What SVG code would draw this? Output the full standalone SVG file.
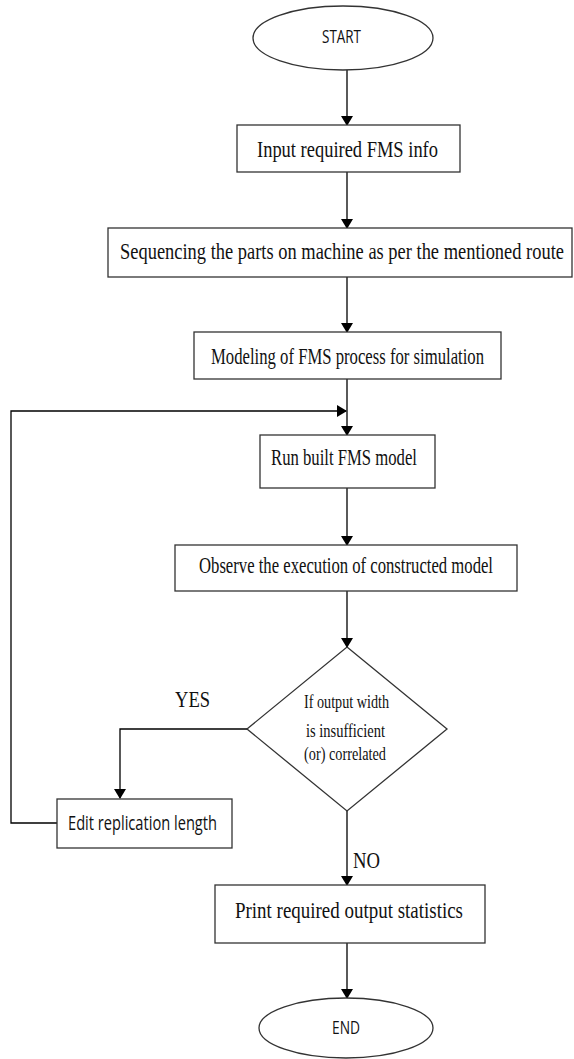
<svg xmlns="http://www.w3.org/2000/svg" width="574" height="1059" viewBox="0 0 574 1059">
<defs>
<marker id="arr" markerWidth="10" markerHeight="12" refX="9" refY="5" orient="auto" markerUnits="userSpaceOnUse" viewBox="0 0 10 10" preserveAspectRatio="none">
<path d="M0,0 L10,5 L0,10 Z" fill="#000"/>
</marker>
<style>
.box{fill:#fff;stroke:#333;stroke-width:1.3}
.ln{fill:none;stroke:#000;stroke-width:1.3}
.serif{font-family:"Liberation Serif","Times New Roman",serif;fill:#111}
.sans{font-family:"Open Sans","Liberation Sans",sans-serif;fill:#111}
</style>
</defs>
<rect width="574" height="1059" fill="#fff"/>
<g id="connectors">
<line class="ln" x1="347" y1="70" x2="347" y2="125" marker-end="url(#arr)"/>
<line class="ln" x1="347" y1="172" x2="347" y2="228" marker-end="url(#arr)"/>
<line class="ln" x1="347" y1="277" x2="347" y2="332" marker-end="url(#arr)"/>
<line class="ln" x1="347" y1="379" x2="347" y2="435" marker-end="url(#arr)"/>
<line class="ln" x1="347" y1="488" x2="347" y2="545" marker-end="url(#arr)"/>
<line class="ln" x1="347" y1="591" x2="347" y2="647" marker-end="url(#arr)"/>
<polyline class="ln" points="247,729 120,729 120,798" marker-end="url(#arr)"/>
<polyline class="ln" points="57,823 11,823 11,411 346,411" marker-end="url(#arr)"/>
<line class="ln" x1="347" y1="811" x2="347" y2="885" marker-end="url(#arr)"/>
<line class="ln" x1="347" y1="943" x2="347" y2="998" marker-end="url(#arr)"/>
<text class="serif" transform="translate(175,707) scale(1,1.25)" font-size="18.5" textLength="35" lengthAdjust="spacingAndGlyphs">YES</text>
<text class="serif" transform="translate(353,868) scale(1,1.25)" font-size="18.5" textLength="27" lengthAdjust="spacingAndGlyphs">NO</text>
</g>
<g id="start">
<ellipse class="box" cx="343" cy="38" rx="90" ry="32"/>
<text class="sans" transform="translate(341.5,43) scale(1,1.3)" font-size="14" text-anchor="middle" textLength="39" lengthAdjust="spacingAndGlyphs">START</text>
</g>
<g id="input">
<rect class="box" x="237" y="125" width="223" height="47"/>
<text class="serif" transform="translate(257,157) scale(1,1.25)" font-size="18.5" textLength="181" lengthAdjust="spacingAndGlyphs">Input required FMS info</text>
</g>
<g id="sequencing">
<rect class="box" x="108" y="228" width="464" height="49"/>
<text class="serif" transform="translate(120,259) scale(1,1.25)" font-size="18.5" textLength="444" lengthAdjust="spacingAndGlyphs">Sequencing the parts on machine as per the mentioned route</text>
</g>
<g id="modeling">
<rect class="box" x="194" y="332" width="307" height="47"/>
<text class="serif" transform="translate(211,364) scale(1,1.25)" font-size="18.5" textLength="273" lengthAdjust="spacingAndGlyphs">Modeling of FMS process for simulation</text>
</g>
<g id="run">
<rect class="box" x="260" y="435" width="175" height="53"/>
<text class="serif" transform="translate(271,465) scale(1,1.25)" font-size="18.5" textLength="146" lengthAdjust="spacingAndGlyphs">Run built FMS model</text>
</g>
<g id="observe">
<rect class="box" x="175" y="545" width="342" height="46"/>
<text class="serif" transform="translate(199,573) scale(1,1.25)" font-size="18" textLength="294" lengthAdjust="spacingAndGlyphs">Observe the execution of constructed model</text>
</g>
<g id="decision">
<polygon class="box" points="347,647 447,729 347,811 247,729"/>
<text class="serif" transform="translate(304,708) scale(1,1.3)" font-size="14.2" textLength="85" lengthAdjust="spacingAndGlyphs">If output width</text>
<text class="serif" transform="translate(306,737) scale(1,1.3)" font-size="14.2" textLength="79" lengthAdjust="spacingAndGlyphs">is insufficient</text>
<text class="serif" transform="translate(304,760) scale(1,1.3)" font-size="14.2" textLength="82" lengthAdjust="spacingAndGlyphs">(or) correlated</text>
</g>
<g id="edit">
<rect class="box" x="57" y="799" width="175" height="49"/>
<text class="sans" transform="translate(68,830) scale(1,1.4)" font-size="14" textLength="149" lengthAdjust="spacingAndGlyphs">Edit replication length</text>
</g>
<g id="print">
<rect class="box" x="215" y="885" width="270" height="58"/>
<text class="serif" transform="translate(235,918) scale(1,1.25)" font-size="18.5" textLength="228" lengthAdjust="spacingAndGlyphs">Print required output statistics</text>
</g>
<g id="end">
<ellipse class="box" cx="346" cy="1028" rx="87" ry="30"/>
<text class="sans" transform="translate(346,1034) scale(1,1.3)" font-size="14" text-anchor="middle" textLength="28" lengthAdjust="spacingAndGlyphs">END</text>
</g>
</svg>
